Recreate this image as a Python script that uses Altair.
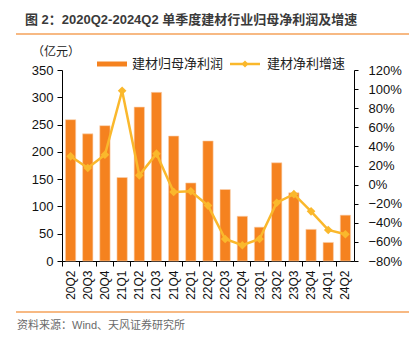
import altair as alt
import pandas as pd

cats = ["20Q2","20Q3","20Q4","21Q1","21Q2","21Q3","21Q4","22Q1","22Q2","22Q3",
        "22Q4","23Q1","23Q2","23Q3","23Q4","24Q1","24Q2"]
profit = [259, 233, 248, 153, 282, 309, 229, 143, 220, 131, 82, 62, 180, 125, 58, 34, 84]
growth = [0.296, 0.174, 0.313, 0.983, 0.097, 0.324, -0.077, -0.07, -0.22, -0.57,
          -0.635, -0.57, -0.19, -0.10, -0.28, -0.475, -0.52]

left_ticks = [0, 50, 100, 150, 200, 250, 300, 350]
right_ticks = [-0.8, -0.6, -0.4, -0.2, 0, 0.2, 0.4, 0.6, 0.8, 1.0, 1.2]

BAR = "#F5821F"
LINE = "#FAB82C"
FONT = "Liberation Sans, Noto Sans CJK SC"
CJK = "Noto Sans CJK SC"

df = pd.DataFrame({"q": cats, "profit": profit, "growth": growth})
one = pd.DataFrame({"k": [0]})

xenc = alt.X("q:N", sort=cats, title=None,
             scale=alt.Scale(paddingInner=0.4, paddingOuter=0.2),
             axis=alt.Axis(labelAngle=270, labelFontSize=12, labelFont=FONT,
                           labelColor="#111", tickSize=5, tickColor="#000",
                           domainColor="#000", labelPadding=4, bandPosition=-0.333))

bars = alt.Chart(df).mark_bar(color=BAR, stroke="#FAD2B0", strokeWidth=0.6).encode(
    x=xenc,
    y=alt.Y("profit:Q", title=None,
            scale=alt.Scale(domain=[0, 350], nice=False),
            axis=alt.Axis(values=left_ticks, grid=False, labelFontSize=13, labelFont=FONT,
                          labelColor="#111", tickSize=5, tickColor="#000",
                          domainColor="#000", labelPadding=4, orient="left"))
)

line = alt.Chart(df).mark_line(color=LINE, strokeWidth=2.5).encode(
    x=alt.X("q:N", sort=cats),
    y=alt.Y("growth:Q", title=None,
            scale=alt.Scale(domain=[-0.8, 1.2], nice=False),
            axis=alt.Axis(values=right_ticks, format=".0%", grid=False, labelFontSize=13,
                          labelFont=FONT, labelColor="#111", tickSize=4, tickColor="#000",
                          domainColor="#000", labelPadding=10, orient="right"))
)
pts = alt.Chart(df).mark_point(shape="diamond", filled=True, size=75, color=LINE, opacity=1).encode(
    x=alt.X("q:N", sort=cats),
    y=alt.Y("growth:Q", scale=alt.Scale(domain=[-0.8, 1.2], nice=False), axis=None)
)

def txt(s, x, y, size=12, color="#222", weight="normal", align="left", font=CJK):
    return alt.Chart(one).mark_text(text=s, fontSize=size, color=color, fontWeight=weight,
                                    align=align, baseline="middle", font=font).encode(
        x=alt.value(x), y=alt.value(y))

title = txt("图 2：2020Q2-2024Q2 单季度建材行业归母净利润及增速", -37, -50, size=13,
            color="#3a3a3a", weight="bold", font=FONT)
rule_top = alt.Chart(one).mark_rule(color="#F5A25A", strokeWidth=1.5).encode(
    x=alt.value(-46), x2=alt.value(347), y=alt.value(-36))
rule_bot = alt.Chart(one).mark_rule(color="#F5A25A", strokeWidth=1.5).encode(
    x=alt.value(-46), x2=alt.value(347), y=alt.value(242))
unit = txt("（亿元）", -30, -18, size=12, color="#222")
source = txt("资料来源：Wind、天风证券研究所", -45, 256, size=11, color="#6a6a6a", font=FONT)

leg_rect = alt.Chart(one).mark_rect(color=BAR).encode(
    x=alt.value(35), x2=alt.value(65), y=alt.value(-8.5), y2=alt.value(-3.5))
leg_txt1 = txt("建材归母净利润", 70, -6, size=13, color="#222")
leg_line = alt.Chart(one).mark_rule(color=LINE, strokeWidth=2.5).encode(
    x=alt.value(168), x2=alt.value(198), y=alt.value(-6))
leg_pt = alt.Chart(one).mark_point(shape="diamond", filled=True, size=50, color=LINE, opacity=1).encode(
    x=alt.value(183), y=alt.value(-6))
leg_txt2 = txt("建材净利增速", 205, -6, size=13, color="#222")

chart = alt.layer(
    bars, line, pts, title, rule_top, rule_bot, unit, source,
    leg_rect, leg_txt1, leg_line, leg_pt, leg_txt2
).resolve_scale(y="independent").properties(
    width=292, height=191,
    autosize=alt.AutoSizeParams(type="none"),
    padding={"left": 62, "top": 70, "right": 60, "bottom": 76},
    background="white"
).configure_view(stroke=None)

chart.save("out.html", embed_options={"renderer": "svg", "actions": False})
